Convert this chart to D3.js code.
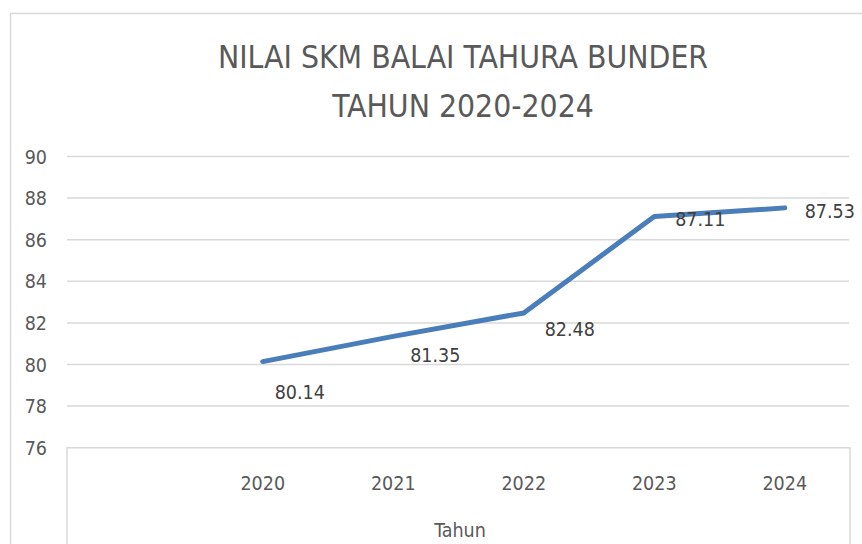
<!DOCTYPE html>
<html>
<head>
<meta charset="utf-8">
<script src="https://cdn.jsdelivr.net/npm/d3@7"></script>
<style>
  body { margin: 0; background: #fff; }
  text { font-family: "Liberation Sans Narrow", "Arial Narrow", "DejaVu Sans Condensed", sans-serif; }
</style>
</head>
<body>
<div id="chart"></div>
<script>
// first category is empty in the source sheet
const categories = ['', '2020', '2021', '2022', '2023', '2024'];
const values = [null, 80.14, 81.35, 82.48, 87.11, 87.53];
const yTicks = [76, 78, 80, 82, 84, 86, 88, 90];
const titleLines = ['NILAI SKM BALAI TAHURA BUNDER', 'TAHUN 2020-2024'];

// label offsets from their point (center of text)
const labelDx = [0, 37, 42, 46, 46, 45];
const labelDy = [0, 30, 19, 16, 2, 3];

const width = 862;
const height = 544;
const plot = { left: 67, right: 850, top: 156.5, bottom: 447.7 };

const svg = d3.select('#chart')
  .append('svg')
  .attr('width', width)
  .attr('height', height);

// chart area border
svg.append('rect')
  .attr('x', 10.5).attr('y', 13.5)
  .attr('width', 906).attr('height', 600)
  .attr('fill', 'none')
  .attr('stroke', '#d9d9d9')
  .attr('stroke-width', 1.5);

const x = d3.scaleBand()
  .domain(categories)
  .range([plot.left, plot.right])
  .padding(0);

const y = d3.scaleLinear()
  .domain([76, 90])
  .range([plot.bottom, plot.top]);

// title
svg.append('g')
  .selectAll('text')
  .data(titleLines)
  .join('text')
    .attr('x', 463)
    .attr('y', (d, i) => 68 + i * 49)
    .attr('text-anchor', 'middle')
    .attr('font-size', '31.6px')
    .attr('fill', '#595959')
    .text(d => d);

// gridlines
svg.append('g')
  .selectAll('line')
  .data(yTicks.filter(t => t > 76))
  .join('line')
    .attr('x1', plot.left).attr('x2', plot.right - 1)
    .attr('y1', d => y(d)).attr('y2', d => y(d))
    .attr('stroke', '#d9d9d9')
    .attr('stroke-width', 1.5);

// box under the axis (category table)
svg.append('path')
  .attr('d', `M${plot.left},${height + 2}V${y(76)}H${plot.right}V${height + 2}`)
  .attr('fill', 'none')
  .attr('stroke', '#d9d9d9')
  .attr('stroke-width', 1.5);

// y axis labels
svg.append('g')
  .selectAll('text')
  .data(yTicks)
  .join('text')
    .attr('x', 47)
    .attr('y', d => y(d) + 7)
    .attr('text-anchor', 'end')
    .attr('font-size', '19.5px')
    .attr('fill', '#595959')
    .text(d => d);

// x axis labels
svg.append('g')
  .selectAll('text')
  .data(categories)
  .join('text')
    .attr('x', d => x(d) + x.bandwidth() / 2)
    .attr('y', 490)
    .attr('text-anchor', 'middle')
    .attr('font-size', '19.5px')
    .attr('fill', '#595959')
    .text(d => d);

svg.append('text')
  .attr('x', 460)
  .attr('y', 537)
  .attr('text-anchor', 'middle')
  .attr('font-size', '19.5px')
  .attr('fill', '#595959')
  .text('Tahun');

const points = categories.map((c, i) => ({ c, v: values[i], i })).filter(d => d.v != null);

const line = d3.line()
  .x(d => x(d.c) + x.bandwidth() / 2)
  .y(d => y(d.v));

svg.append('path')
  .datum(points)
  .attr('d', line)
  .attr('fill', 'none')
  .attr('stroke', '#4a7ebb')
  .attr('stroke-width', 5)
  .attr('stroke-linecap', 'round')
  .attr('stroke-linejoin', 'round');

// data labels
svg.append('g')
  .selectAll('text')
  .data(points)
  .join('text')
    .attr('x', d => x(d.c) + x.bandwidth() / 2 + labelDx[d.i])
    .attr('y', d => y(d.v) + labelDy[d.i] + 7)
    .attr('text-anchor', 'middle')
    .attr('font-size', '19.5px')
    .attr('fill', '#404040')
    .text(d => d.v.toFixed(2));
</script>
</body>
</html>
